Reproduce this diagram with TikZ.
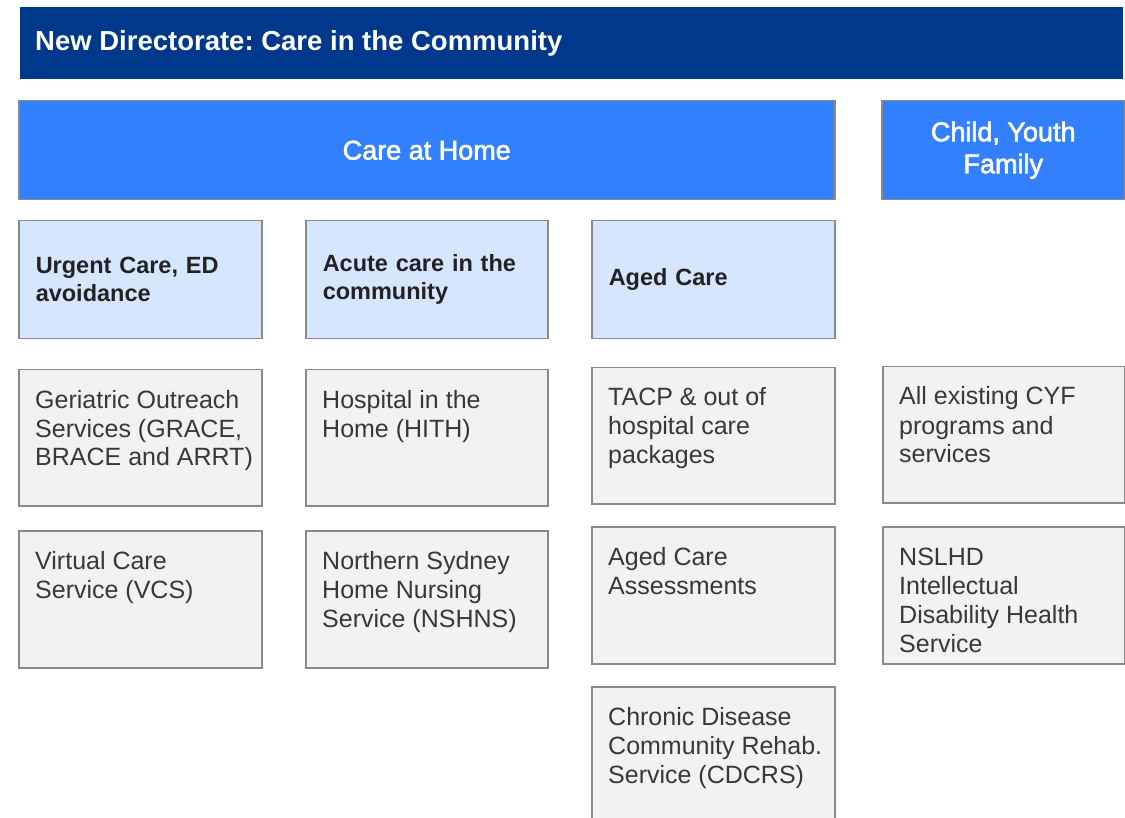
\documentclass[tikz,border=0pt]{standalone}
\usepackage{fontspec}
\setmainfont{Liberation Sans}
\newfontfamily\medfont[FakeBold=2.2]{Liberation Sans}
\frenchspacing
\definecolor{dirblue}{HTML}{00388C}
\definecolor{midblue}{HTML}{3380FF}
\definecolor{paleblue}{HTML}{D6E6FF}
\definecolor{boxgray}{HTML}{F2F2F2}
\definecolor{edgegray}{HTML}{8A8A8A}
\definecolor{txtgray}{HTML}{383838}
\definecolor{txtdark}{HTML}{222222}
\usetikzlibrary{calc}
\tikzset{
  x=1pt, y=-1pt,
  dirbar/.style={fill=dirblue, draw=none, anchor=north west, inner sep=0pt},
  headbox/.style={fill=midblue, draw=edgegray, line width=1.5pt, anchor=north west, inner sep=0pt,
    text=white, font={\medfont\fontsize{27}{32}\selectfont}, align=center},
  subbox/.style={fill=paleblue, draw=edgegray, line width=1.5pt, anchor=north west, inner xsep=17pt, inner ysep=0pt,
    text=txtdark, font={\fontsize{23.5}{28}\selectfont\bfseries}, align=left},
  servbox/.style={fill=boxgray, draw=edgegray, line width=1.5pt, anchor=north west, inner sep=0pt},
  servtext/.style={anchor=base west, inner sep=0pt, text=txtgray, font={\fontsize{25}{29}\selectfont}},
}
\newcommand{\servbox}[7]{% name, x1, y1, x2, y2, text width, text
  \node[servbox, minimum width={#4-#2}, minimum height={#5-#3}] (#1) at (#2,#3) {};
  \node[servtext] (#1t) at ($(#1.north west)+(17,39)$) {\parbox[t]{#6pt}{#7}};
}
\begin{document}
\begin{tikzpicture}
\clip (0,0) rectangle (1125,818);
\fill[white] (0,0) rectangle (1125,818);

% title bar
\node[dirbar, minimum width=1103, minimum height=72] (title) at (20,7) {};
\node[anchor=west, inner sep=0pt, text=white, font={\fontsize{27.5}{32}\selectfont\bfseries}] (titletext)
  at ($(title.west)+(15,0)$) {New Directorate: Care in the Community};

% headers
\node[headbox, minimum width=816, minimum height=99] (home) at (18,100) {Care at Home};
\node[headbox, minimum width=243, minimum height=99] (cyf) at (881,100) {Child, Youth\\Family};

% sub headers
\node[subbox, minimum width=243, minimum height=118, text width=209] (urgent) at (18,220) {Urgent Care, ED\\avoidance};
\node[subbox, minimum width=242, minimum height=118, text width=208] (acute) at (305,220) {Acute care in the\\community};
\node[subbox, minimum width=243, minimum height=118, text width=209] (aged) at (591,220) {Aged Care};

% services
\servbox{g11}{18}{369}{261}{505}{220}{Geriatric Outreach\\Services (GRACE,\\BRACE and ARRT)}
\servbox{g12}{18}{530}{261}{667}{220}{Virtual Care\\Service (VCS)}
\servbox{g21}{305}{369}{547}{505}{220}{Hospital in the\\Home (HITH)}
\servbox{g22}{305}{530}{547}{667}{220}{Northern Sydney\\Home Nursing\\Service (NSHNS)}
\servbox{g31}{591}{367}{834}{503}{220}{TACP \& out of\\hospital care\\packages}
\servbox{g32}{591}{526}{834}{663}{220}{Aged Care\\Assessments}
\servbox{g33}{591}{686}{834}{840}{220}{Chronic Disease\\Community Rehab.\\Service (CDCRS)}
\servbox{g41}{882}{366}{1124}{502}{220}{All existing CYF\\programs and\\services}
\servbox{g42}{882}{526}{1124}{663}{220}{NSLHD\\Intellectual\\Disability Health\\Service}
\end{tikzpicture}
\end{document}
